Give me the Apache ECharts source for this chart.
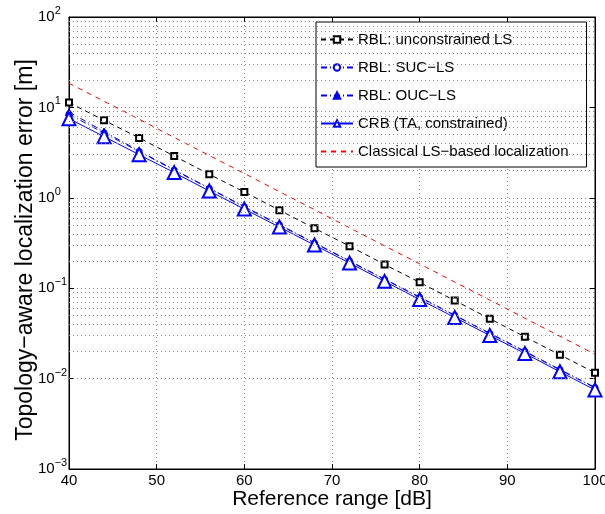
<!DOCTYPE html>
<html>
<head>
<meta charset="utf-8">
<script src="https://cdn.jsdelivr.net/npm/echarts@6/dist/echarts.min.js"></script>
<style>
  html, body { margin: 0; padding: 0; background: #fff; }
  #main { width: 605px; height: 514px; }
</style>
</head>
<body>
<div id="main"></div>
<script>
// reference range [dB]
var refRange = [40, 44, 48, 52, 56, 60, 64, 68, 72, 76, 80, 84, 88, 92, 96, 100];

// localization error [m]
var rblUnconstrained = [11.3, 7.2, 4.6, 2.9, 1.82, 1.16, 0.73, 0.46, 0.292, 0.183, 0.116, 0.073, 0.046, 0.029, 0.0183, 0.0116];
var rblSuc = [8.4, 5.2, 3.25, 2.02, 1.27, 0.79, 0.50, 0.315, 0.199, 0.125, 0.079, 0.050, 0.0315, 0.0199, 0.0125, 0.0079];
var rblOuc = [8.9, 5.4, 3.3, 2.05, 1.28, 0.80, 0.505, 0.318, 0.201, 0.126, 0.080, 0.0503, 0.0318, 0.0201, 0.0126, 0.0080];
var crb = [7.5, 4.75, 3.0, 1.9, 1.19, 0.75, 0.475, 0.30, 0.19, 0.119, 0.075, 0.0475, 0.030, 0.019, 0.0119, 0.0075];
var classical = [18.5, 11.7, 7.4, 4.65, 2.94, 1.86, 1.17, 0.74, 0.466, 0.294, 0.186, 0.117, 0.074, 0.0466, 0.0294, 0.0186];

var seriesNames = ['RBL: unconstrained LS', 'RBL: SUC\u2212LS', 'RBL: OUC\u2212LS', 'CRB (TA, constrained)', 'Classical LS\u2212based localization'];

function pairs(ys) {
    return refRange.map(function (x, i) { return [x, ys[i]]; });
}

// minor log grid lines (2..9 in each decade)
var minorLines = [];
for (var e = -3; e < 2; e++) {
    for (var m = 2; m <= 9; m++) {
        minorLines.push({ yAxis: m * Math.pow(10, e) });
    }
}

var font = '"Liberation Sans", Arial, Helvetica, sans-serif';
var gridDot = { color: '#8a8a8a', type: [1, 3], width: 1 };

var chart = echarts.init(document.getElementById('main'));
var option = {
    animation: false,
    backgroundColor: '#fff',
    textStyle: { fontFamily: font },
    grid: {
        left: 69, right: 10, top: 17, bottom: 45,
        outerBoundsMode: 'none',
        containLabel: false,
        show: true, borderColor: '#000', borderWidth: 1
    },
    legend: {
        orient: 'vertical',
        left: 316, top: 22,
        padding: [10, 18, 8, 4],
        itemGap: 13,
        itemWidth: 32,
        itemHeight: 8,
        backgroundColor: '#fff',
        borderColor: '#000',
        borderWidth: 1,
        textStyle: { fontSize: 15, color: '#000', fontFamily: font },
        data: [
            { name: seriesNames[0] },
            { name: seriesNames[1] },
            { name: seriesNames[2] },
            { name: seriesNames[3] },
            { name: seriesNames[4], itemStyle: { opacity: 0 } }
        ]
    },
    xAxis: [{
        type: 'value',
        min: 40, max: 100, interval: 10,
        name: 'Reference range [dB]',
        nameLocation: 'middle',
        nameGap: 20,
        nameMoveOverlap: false,
        nameTextStyle: { fontSize: 21, color: '#000' },
        axisLine: { lineStyle: { color: '#000' } },
        axisTick: { inside: true, length: 5, lineStyle: { color: '#000' } },
        axisLabel: { fontSize: 15, color: '#000', margin: 4 },
        splitLine: { show: true, lineStyle: gridDot }
    }, {
        type: 'value',
        position: 'top',
        min: 40, max: 100, interval: 10,
        axisLine: { lineStyle: { color: '#000' } },
        axisTick: { inside: true, length: 5, lineStyle: { color: '#000' } },
        axisLabel: { show: false },
        splitLine: { show: false }
    }],
    yAxis: [{
        type: 'log',
        logBase: 10,
        min: 1e-3, max: 1e2,
        name: 'Topology\u2212aware localization error [m]',
        nameLocation: 'middle',
        nameGap: 32,
        nameMoveOverlap: false,
        nameTextStyle: { fontSize: 23, color: '#000', padding: [0, 14, 0, 0] },
        axisLine: { lineStyle: { color: '#000' } },
        axisTick: { inside: true, length: 5, lineStyle: { color: '#000' } },
        axisLabel: {
            margin: 31,
            align: 'left',
            color: '#000',
            formatter: function (v) {
                var p = Math.round(Math.log10(v));
                return '{b|10}{s|' + String(p).replace('-', '\u2212') + '}';
            },
            rich: {
                b: { fontSize: 15, color: '#000', fontFamily: font },
                s: { fontSize: 11, color: '#000', fontFamily: font, padding: [0, 0, 12, 0] }
            }
        },
        splitLine: { show: true, lineStyle: gridDot }
    }, {
        type: 'log',
        logBase: 10,
        min: 1e-3, max: 1e2,
        position: 'right',
        axisLine: { lineStyle: { color: '#000' } },
        axisTick: { inside: true, length: 5, lineStyle: { color: '#000' } },
        axisLabel: { show: false },
        splitLine: { show: false }
    }],
    series: [
        {
            name: 'minor-grid',
            type: 'line',
            data: [],
            z: 1,
            silent: true,
            markLine: {
                silent: true,
                symbol: 'none',
                label: { show: false },
                lineStyle: gridDot,
                data: minorLines
            }
        },
        {
            name: seriesNames[0],
            type: 'line',
            data: pairs(rblUnconstrained),
            z: 3,
            symbol: 'emptyRect',
            symbolSize: 6,
            color: '#000',
            lineStyle: { color: '#000', width: 1, type: [5, 4] },
            itemStyle: { color: '#000', borderColor: '#000', borderWidth: 1 }
        },
        {
            name: seriesNames[1],
            type: 'line',
            data: pairs(rblSuc),
            z: 3,
            symbol: 'emptyCircle',
            symbolSize: 5,
            color: '#0000ff',
            lineStyle: { color: '#0000ff', width: 1, type: [6, 3, 1, 3] },
            itemStyle: { color: '#0000ff', borderColor: '#0000ff', borderWidth: 1 }
        },
        {
            name: seriesNames[2],
            type: 'line',
            data: pairs(rblOuc),
            z: 3,
            symbol: 'triangle',
            symbolSize: 7,
            color: '#0000ff',
            lineStyle: { color: '#0000ff', width: 1, type: [6, 3, 1, 3] },
            itemStyle: { color: '#0000ff', borderColor: '#0000ff', borderWidth: 1 }
        },
        {
            name: seriesNames[3],
            type: 'line',
            data: pairs(crb),
            z: 3,
            symbol: 'emptyTriangle',
            symbolSize: 13,
            color: '#0000ff',
            lineStyle: { color: '#0000ff', width: 1 },
            itemStyle: { color: '#0000ff', borderColor: '#0000ff', borderWidth: 1.2 }
        },
        {
            name: seriesNames[4],
            type: 'line',
            data: pairs(classical),
            z: 3,
            symbol: 'none',
            color: '#ff0000',
            lineStyle: { color: '#ff0000', width: 1, type: [5, 5] },
            itemStyle: { color: '#ff0000' }
        }
    ]
};
chart.setOption(option);
</script>
</body>
</html>
